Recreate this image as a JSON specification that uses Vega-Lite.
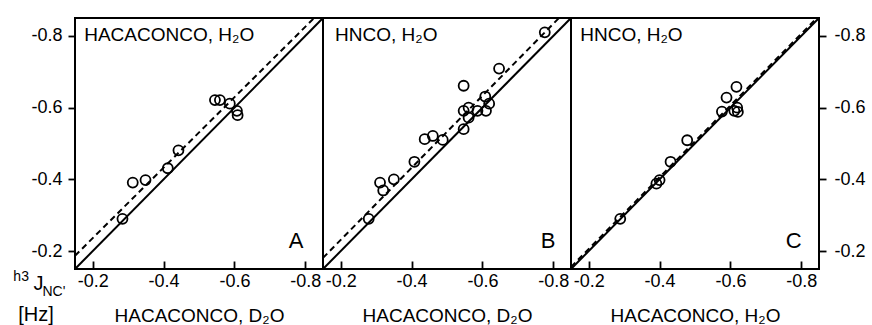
{
  "$schema": "https://vega.github.io/schema/vega-lite/v6.json",
  "background": "white",
  "padding": {"left": 12, "top": 13, "right": 4, "bottom": 0},
  "bounds": "flush",
  "spacing": 0,
  "config": {
    "font": "Liberation Sans",
    "view": {"stroke": "black", "strokeWidth": 2},
    "axis": {
      "domain": false,
      "grid": false,
      "labelFont": "Liberation Sans",
      "labelFontSize": 18,
      "labelColor": "black",
      "tickColor": "black",
      "tickWidth": 1.8,
      "titleFont": "Liberation Sans",
      "titleFontSize": 19,
      "titleFontWeight": "normal",
      "titleColor": "black"
    },
    "axisX": {"offset": -8, "tickSize": 8, "labelPadding": 3, "titlePadding": 16},
    "axisY": {"tickSize": 7, "labelPadding": 6}
  },
  "datasets": {
    "pts": [
      {"panel": "A", "x": -0.284, "y": -0.290},
      {"panel": "A", "x": -0.313, "y": -0.391},
      {"panel": "A", "x": -0.349, "y": -0.398},
      {"panel": "A", "x": -0.412, "y": -0.431},
      {"panel": "A", "x": -0.442, "y": -0.481},
      {"panel": "A", "x": -0.545, "y": -0.621},
      {"panel": "A", "x": -0.559, "y": -0.621},
      {"panel": "A", "x": -0.587, "y": -0.611},
      {"panel": "A", "x": -0.607, "y": -0.591},
      {"panel": "A", "x": -0.609, "y": -0.579},
      {"panel": "B", "x": -0.279, "y": -0.290},
      {"panel": "B", "x": -0.311, "y": -0.391},
      {"panel": "B", "x": -0.320, "y": -0.369},
      {"panel": "B", "x": -0.350, "y": -0.400},
      {"panel": "B", "x": -0.408, "y": -0.449},
      {"panel": "B", "x": -0.437, "y": -0.512},
      {"panel": "B", "x": -0.460, "y": -0.521},
      {"panel": "B", "x": -0.488, "y": -0.510},
      {"panel": "B", "x": -0.547, "y": -0.661},
      {"panel": "B", "x": -0.547, "y": -0.591},
      {"panel": "B", "x": -0.547, "y": -0.540},
      {"panel": "B", "x": -0.561, "y": -0.600},
      {"panel": "B", "x": -0.561, "y": -0.572},
      {"panel": "B", "x": -0.586, "y": -0.591},
      {"panel": "B", "x": -0.608, "y": -0.631},
      {"panel": "B", "x": -0.610, "y": -0.591},
      {"panel": "B", "x": -0.619, "y": -0.611},
      {"panel": "B", "x": -0.647, "y": -0.709},
      {"panel": "B", "x": -0.776, "y": -0.810},
      {"panel": "C", "x": -0.289, "y": -0.290},
      {"panel": "C", "x": -0.391, "y": -0.388},
      {"panel": "C", "x": -0.400, "y": -0.398},
      {"panel": "C", "x": -0.431, "y": -0.449},
      {"panel": "C", "x": -0.478, "y": -0.509},
      {"panel": "C", "x": -0.576, "y": -0.589},
      {"panel": "C", "x": -0.589, "y": -0.628},
      {"panel": "C", "x": -0.617, "y": -0.658},
      {"panel": "C", "x": -0.611, "y": -0.591},
      {"panel": "C", "x": -0.619, "y": -0.600},
      {"panel": "C", "x": -0.621, "y": -0.588}
    ],
    "lines": [
      {"panel": "A", "fit": "identity", "x": -0.15, "y": -0.15},
      {"panel": "A", "fit": "identity", "x": -0.85, "y": -0.85},
      {"panel": "A", "fit": "fit", "x": -0.15, "y": -0.187},
      {"panel": "A", "fit": "fit", "x": -0.825, "y": -0.85},
      {"panel": "B", "fit": "identity", "x": -0.15, "y": -0.15},
      {"panel": "B", "fit": "identity", "x": -0.85, "y": -0.85},
      {"panel": "B", "fit": "fit", "x": -0.15, "y": -0.181},
      {"panel": "B", "fit": "fit", "x": -0.816, "y": -0.85},
      {"panel": "C", "fit": "identity", "x": -0.15, "y": -0.15},
      {"panel": "C", "fit": "identity", "x": -0.85, "y": -0.85},
      {"panel": "C", "fit": "fit", "x": -0.15, "y": -0.156},
      {"panel": "C", "fit": "fit", "x": -0.844, "y": -0.85}
    ]
  },
  "hconcat": [
    {
      "width": 248,
      "height": 251,
      "layer": [
        {
          "data": {"name": "lines"},
          "transform": [{"filter": "datum.panel === 'A' && datum.fit === 'identity'"}],
          "mark": {"type": "line", "color": "black", "strokeWidth": 2},
          "encoding": {
            "x": {"field": "x", "type": "quantitative", "scale": {"domain": [-0.85, -0.15], "reverse": true, "nice": false, "zero": false},
                  "axis": {"title": "HACACONCO, D₂O", "values": [-0.2, -0.4, -0.6, -0.8], "labelExpr": "'-' + format(abs(datum.value), '.1f')"}},
            "y": {"field": "y", "type": "quantitative", "scale": {"domain": [-0.85, -0.15], "reverse": true, "nice": false, "zero": false},
                  "axis": {"title": null, "orient": "left", "values": [-0.2, -0.4, -0.6, -0.8], "labelExpr": "'-' + format(abs(datum.value), '.1f')"}}
          }
        },
        {
          "data": {"name": "lines"},
          "transform": [{"filter": "datum.panel === 'A' && datum.fit === 'fit'"}],
          "mark": {"type": "line", "color": "black", "strokeWidth": 2, "strokeDash": [6, 4]},
          "encoding": {
            "x": {"field": "x", "type": "quantitative", "scale": {"domain": [-0.85, -0.15], "reverse": true, "nice": false, "zero": false}},
            "y": {"field": "y", "type": "quantitative", "scale": {"domain": [-0.85, -0.15], "reverse": true, "nice": false, "zero": false}}
          }
        },
        {
          "data": {"name": "pts"},
          "transform": [{"filter": "datum.panel === 'A'"}],
          "mark": {"type": "point", "shape": "circle", "filled": false, "size": 100, "strokeWidth": 1.8, "color": "black", "opacity": 1},
          "encoding": {
            "x": {"field": "x", "type": "quantitative", "scale": {"domain": [-0.85, -0.15], "reverse": true, "nice": false, "zero": false}},
            "y": {"field": "y", "type": "quantitative", "scale": {"domain": [-0.85, -0.15], "reverse": true, "nice": false, "zero": false}}
          }
        },
        {
          "data": {"values": [{}]},
          "mark": {"type": "text", "fontSize": 19, "align": "left", "baseline": "alphabetic", "color": "black"},
          "encoding": {
            "x": {"datum": -0.176, "type": "quantitative"},
            "y": {"datum": -0.785, "type": "quantitative"},
            "text": {"value": "HACACONCO, H₂O"}
          }
        },
        {
          "data": {"values": [{}]},
          "mark": {"type": "text", "fontSize": 22, "align": "right", "baseline": "alphabetic", "color": "black"},
          "encoding": {
            "x": {"datum": -0.795, "type": "quantitative"},
            "y": {"datum": -0.209, "type": "quantitative"},
            "text": {"value": "A"}
          }
        },
        {
          "data": {"values": [{}]},
          "mark": {"type": "text", "fontSize": 14, "align": "left", "baseline": "alphabetic", "color": "black"},
          "encoding": {
            "x": {"datum": 0.024, "type": "quantitative"},
            "y": {"datum": -0.116, "type": "quantitative"},
            "text": {"value": "h3"}
          }
        },
        {
          "data": {"values": [{}]},
          "mark": {"type": "text", "fontSize": 20, "align": "left", "baseline": "alphabetic", "color": "black"},
          "encoding": {
            "x": {"datum": -0.033, "type": "quantitative"},
            "y": {"datum": -0.092, "type": "quantitative"},
            "text": {"value": "J"}
          }
        },
        {
          "data": {"values": [{}]},
          "mark": {"type": "text", "fontSize": 14, "align": "left", "baseline": "alphabetic", "color": "black"},
          "encoding": {
            "x": {"datum": -0.058, "type": "quantitative"},
            "y": {"datum": -0.075, "type": "quantitative"},
            "text": {"value": "NC'"}
          }
        },
        {
          "data": {"values": [{}]},
          "mark": {"type": "text", "fontSize": 20, "align": "left", "baseline": "alphabetic", "color": "black"},
          "encoding": {
            "x": {"datum": 0.010, "type": "quantitative"},
            "y": {"datum": -0.004, "type": "quantitative"},
            "text": {"value": "[Hz]"}
          }
        }
      ]
    },
    {
      "width": 248,
      "height": 251,
      "layer": [
        {
          "data": {"name": "lines"},
          "transform": [{"filter": "datum.panel === 'B' && datum.fit === 'identity'"}],
          "mark": {"type": "line", "color": "black", "strokeWidth": 2},
          "encoding": {
            "x": {"field": "x", "type": "quantitative", "scale": {"domain": [-0.85, -0.15], "reverse": true, "nice": false, "zero": false},
                  "axis": {"title": "HACACONCO, D₂O", "values": [-0.2, -0.4, -0.6, -0.8], "labelExpr": "'-' + format(abs(datum.value), '.1f')"}},
            "y": {"field": "y", "type": "quantitative", "scale": {"domain": [-0.85, -0.15], "reverse": true, "nice": false, "zero": false}, "axis": null}
          }
        },
        {
          "data": {"name": "lines"},
          "transform": [{"filter": "datum.panel === 'B' && datum.fit === 'fit'"}],
          "mark": {"type": "line", "color": "black", "strokeWidth": 2, "strokeDash": [6, 4]},
          "encoding": {
            "x": {"field": "x", "type": "quantitative", "scale": {"domain": [-0.85, -0.15], "reverse": true, "nice": false, "zero": false}},
            "y": {"field": "y", "type": "quantitative", "scale": {"domain": [-0.85, -0.15], "reverse": true, "nice": false, "zero": false}, "axis": null}
          }
        },
        {
          "data": {"name": "pts"},
          "transform": [{"filter": "datum.panel === 'B'"}],
          "mark": {"type": "point", "shape": "circle", "filled": false, "size": 100, "strokeWidth": 1.8, "color": "black", "opacity": 1},
          "encoding": {
            "x": {"field": "x", "type": "quantitative", "scale": {"domain": [-0.85, -0.15], "reverse": true, "nice": false, "zero": false}},
            "y": {"field": "y", "type": "quantitative", "scale": {"domain": [-0.85, -0.15], "reverse": true, "nice": false, "zero": false}, "axis": null}
          }
        },
        {
          "data": {"values": [{}]},
          "mark": {"type": "text", "fontSize": 19, "align": "left", "baseline": "alphabetic", "color": "black"},
          "encoding": {
            "x": {"datum": -0.184, "type": "quantitative"},
            "y": {"datum": -0.785, "type": "quantitative", "axis": null},
            "text": {"value": "HNCO, H₂O"}
          }
        },
        {
          "data": {"values": [{}]},
          "mark": {"type": "text", "fontSize": 22, "align": "right", "baseline": "alphabetic", "color": "black"},
          "encoding": {
            "x": {"datum": -0.806, "type": "quantitative"},
            "y": {"datum": -0.209, "type": "quantitative", "axis": null},
            "text": {"value": "B"}
          }
        }
      ]
    },
    {
      "width": 248,
      "height": 251,
      "layer": [
        {
          "data": {"name": "lines"},
          "transform": [{"filter": "datum.panel === 'C' && datum.fit === 'identity'"}],
          "mark": {"type": "line", "color": "black", "strokeWidth": 2},
          "encoding": {
            "x": {"field": "x", "type": "quantitative", "scale": {"domain": [-0.85, -0.15], "reverse": true, "nice": false, "zero": false},
                  "axis": {"title": "HACACONCO, H₂O", "values": [-0.2, -0.4, -0.6, -0.8], "labelExpr": "'-' + format(abs(datum.value), '.1f')"}},
            "y": {"field": "y", "type": "quantitative", "scale": {"domain": [-0.85, -0.15], "reverse": true, "nice": false, "zero": false},
                  "axis": {"title": null, "orient": "right", "labelPadding": 8, "values": [-0.2, -0.4, -0.6, -0.8], "labelExpr": "'-' + format(abs(datum.value), '.1f')"}}
          }
        },
        {
          "data": {"name": "lines"},
          "transform": [{"filter": "datum.panel === 'C' && datum.fit === 'fit'"}],
          "mark": {"type": "line", "color": "black", "strokeWidth": 2, "strokeDash": [6, 4]},
          "encoding": {
            "x": {"field": "x", "type": "quantitative", "scale": {"domain": [-0.85, -0.15], "reverse": true, "nice": false, "zero": false}},
            "y": {"field": "y", "type": "quantitative", "scale": {"domain": [-0.85, -0.15], "reverse": true, "nice": false, "zero": false}}
          }
        },
        {
          "data": {"name": "pts"},
          "transform": [{"filter": "datum.panel === 'C'"}],
          "mark": {"type": "point", "shape": "circle", "filled": false, "size": 100, "strokeWidth": 1.8, "color": "black", "opacity": 1},
          "encoding": {
            "x": {"field": "x", "type": "quantitative", "scale": {"domain": [-0.85, -0.15], "reverse": true, "nice": false, "zero": false}},
            "y": {"field": "y", "type": "quantitative", "scale": {"domain": [-0.85, -0.15], "reverse": true, "nice": false, "zero": false}}
          }
        },
        {
          "data": {"values": [{}]},
          "mark": {"type": "text", "fontSize": 19, "align": "left", "baseline": "alphabetic", "color": "black"},
          "encoding": {
            "x": {"datum": -0.176, "type": "quantitative"},
            "y": {"datum": -0.785, "type": "quantitative"},
            "text": {"value": "HNCO, H₂O"}
          }
        },
        {
          "data": {"values": [{}]},
          "mark": {"type": "text", "fontSize": 22, "align": "right", "baseline": "alphabetic", "color": "black"},
          "encoding": {
            "x": {"datum": -0.801, "type": "quantitative"},
            "y": {"datum": -0.209, "type": "quantitative"},
            "text": {"value": "C"}
          }
        }
      ]
    }
  ]
}
